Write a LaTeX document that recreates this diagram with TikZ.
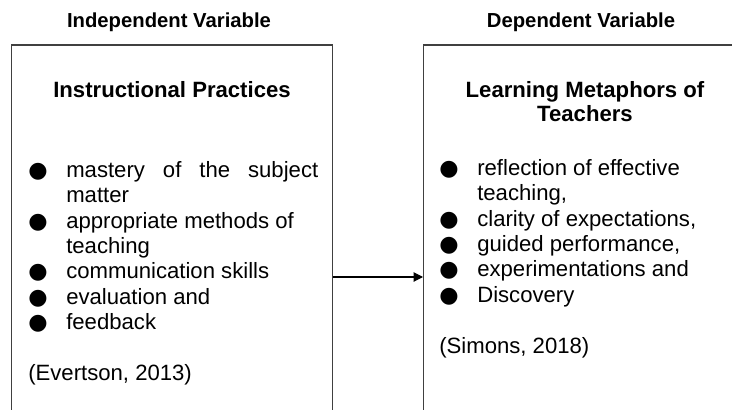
\documentclass[tikz,border=0pt]{standalone}
\usepackage{fontspec}
\setmainfont{Liberation Sans}
\newfontfamily\symfont{DejaVu Sans}
\usetikzlibrary{arrows.meta}
\newcommand\mybul{\makebox[28.5pt][l]{{\symfont ●}}}
\begin{document}
\begin{tikzpicture}[x=0.75pt,y=-0.75pt,
  boxframe/.style={draw=black!75, line width=1pt, rectangle, inner sep=0pt, anchor=north west},
  head/.style={font=\fontsize{15.2pt}{18pt}\selectfont\bfseries, inner sep=0pt, anchor=base},
  title/.style={font=\fontsize{16.6pt}{18pt}\selectfont\bfseries, inner sep=0pt, anchor=north, align=center},
  body/.style={font=\fontsize{16.6pt}{19.05pt}\selectfont, inner sep=0pt, anchor=north west, align=left},
  link/.style={draw=black, line width=0.8pt, -{Triangle[length=7pt,width=7pt]}}
]
\useasboundingbox (0,0) rectangle (732,410);
\clip (0,0) rectangle (732,410);
\fill[white] (0,0) rectangle (732,410);
\node[boxframe, minimum width=240.75pt, minimum height=300pt] (lbox) at (11,44.5) {};
\node[boxframe, minimum width=247.5pt, minimum height=300pt] (rbox) at (423,44.5) {};
\node[head] (iv) at (169,27.5) {Independent Variable};
\node[head] (dv) at (581,27.5) {Dependent Variable};
\node[title] (ip) at (172,80.2) {\strut Instructional Practices};
\node[title] (lm) at (585,80.2) {\strut Learning Metaphors of\\Teachers};
\node[body] (llist) at (28,159.2) {\strut\mybul\makebox[189pt][s]{mastery of the subject}\\
\hspace*{28.5pt}matter\\
\mybul appropriate methods of\\
\hspace*{28.5pt}teaching\\
\mybul communication skills\\
\mybul evaluation and\\
\mybul feedback\\
\mbox{}\\
(Evertson, 2013)};
\node[body] (rlist) at (439,157.2) {\strut\mybul reflection of effective\\
\hspace*{28.5pt}teaching,\\
\mybul clarity of expectations,\\
\mybul guided performance,\\
\mybul experimentations and\\
\mybul Discovery\\
\mbox{}\\
(Simons, 2018)};
\coordinate (ay) at (0,277);
\draw[link] (lbox.east |- ay) -- (rbox.west |- ay);
\end{tikzpicture}
\end{document}
